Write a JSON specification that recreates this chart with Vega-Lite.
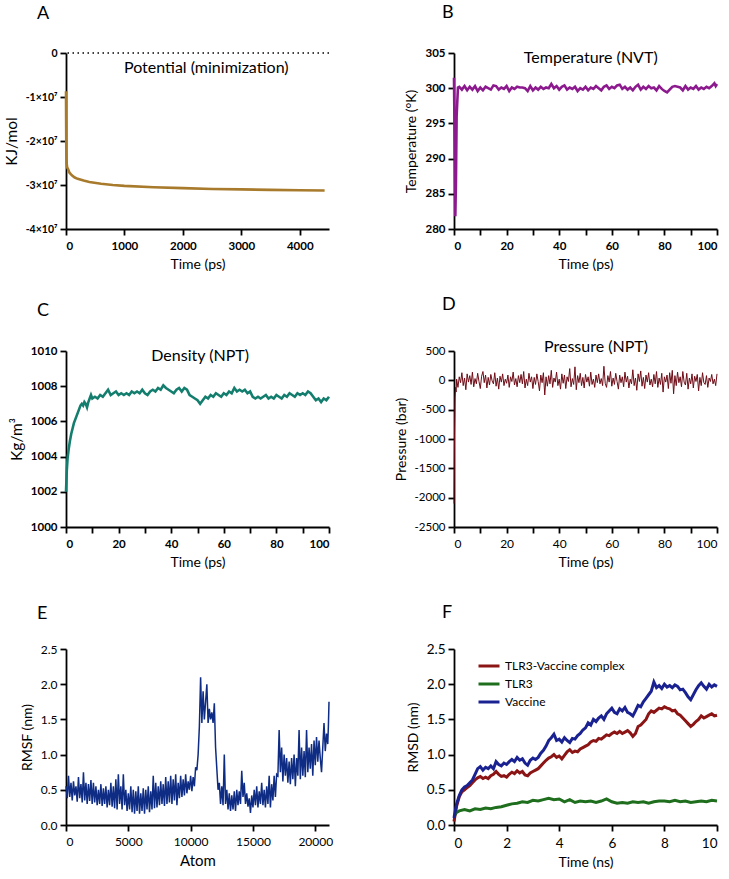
{
"$schema":"https://vega.github.io/schema/vega-lite/v6.json",
"padding":{"left":4,"top":4,"right":4,"bottom":4},
"config":{
 "view":{"stroke":null},
 "font":"Lato",
 "axis":{"domainColor":"black","domainWidth":1.8,"tickColor":"black","tickWidth":1.8,"tickSize":6,"labelColor":"black","labelFont":"Lato","labelFontSize":11.5,"labelFontWeight":"bold","titleFont":"Lato","titleFontSize":14,"titleFontWeight":"normal","titleColor":"black","grid":false,"labelPadding":3,"titlePadding":6,"labelOverlap":false},
 "axisX":{"labelPadding":5,"titlePadding":6},
 "title":{"font":"Lato","fontSize":18,"fontWeight":"normal","anchor":"start","frame":"group","color":"black"}
},
"datasets":{
 "pot":[{"t":0,"v":-8700000},{"t":2,"v":-15000000},{"t":5,"v":-22000000},{"t":10,"v":-25000000},{"t":20,"v":-26000000},{"t":35,"v":-26400000},{"t":60,"v":-27200000},{"t":100,"v":-27800000},{"t":150,"v":-28300000},{"t":200,"v":-28600000},{"t":300,"v":-29000000},{"t":400,"v":-29300000},{"t":600,"v":-29700000},{"t":800,"v":-30000000},{"t":1000,"v":-30200000},{"t":1500,"v":-30500000},{"t":2000,"v":-30700000},{"t":2500,"v":-30900000},{"t":3000,"v":-31000000},{"t":3500,"v":-31100000},{"t":4000,"v":-31200000},{"t":4425,"v":-31250000}],
 "temp":[{"t":0,"v":301.5},{"t":0.25,"v":292},{"t":0.5,"v":281.8},{"t":0.75,"v":287},{"t":1,"v":296},{"t":1.5,"v":300.1},{"t":2,"v":300.2},{"t":3,"v":299.8},{"t":4,"v":300.3},{"t":5,"v":299.7},{"t":6,"v":300.2},{"t":7,"v":299.8},{"t":8,"v":300.3},{"t":9,"v":299.6},{"t":10,"v":300.1},{"t":11,"v":299.7},{"t":12,"v":300.2},{"t":13,"v":300.0},{"t":14,"v":299.8},{"t":15,"v":300.4},{"t":16,"v":300.3},{"t":17,"v":299.8},{"t":18,"v":300.1},{"t":19,"v":299.9},{"t":20,"v":300.3},{"t":21,"v":299.6},{"t":22,"v":300.1},{"t":23,"v":299.9},{"t":24,"v":300.2},{"t":25,"v":300.1},{"t":26,"v":300.1},{"t":27,"v":300.0},{"t":28,"v":299.6},{"t":29,"v":300.3},{"t":30,"v":299.7},{"t":31,"v":300.1},{"t":32,"v":299.8},{"t":33,"v":300.2},{"t":34,"v":299.9},{"t":35,"v":300.1},{"t":36,"v":300.0},{"t":37,"v":300.6},{"t":38,"v":300.0},{"t":39,"v":300.3},{"t":40,"v":299.8},{"t":41,"v":300.2},{"t":42,"v":300.4},{"t":43,"v":299.8},{"t":44,"v":300.1},{"t":45,"v":299.9},{"t":46,"v":300.2},{"t":47,"v":299.6},{"t":48,"v":300.0},{"t":49,"v":299.8},{"t":50,"v":300.2},{"t":51,"v":299.7},{"t":52,"v":300.1},{"t":53,"v":299.9},{"t":54,"v":300.3},{"t":55,"v":300.0},{"t":56,"v":299.7},{"t":57,"v":300.2},{"t":58,"v":300.4},{"t":59,"v":299.9},{"t":60,"v":300.2},{"t":61,"v":300.0},{"t":62,"v":300.4},{"t":63,"v":300.5},{"t":64,"v":299.9},{"t":65,"v":300.2},{"t":66,"v":299.8},{"t":67,"v":300.1},{"t":68,"v":299.7},{"t":69,"v":300.2},{"t":70,"v":300.5},{"t":71,"v":299.8},{"t":72,"v":300.2},{"t":73,"v":299.9},{"t":74,"v":300.3},{"t":75,"v":300.0},{"t":76,"v":300.1},{"t":77,"v":299.7},{"t":78,"v":300.3},{"t":79,"v":299.9},{"t":80,"v":299.6},{"t":81,"v":299.4},{"t":82,"v":299.8},{"t":83,"v":300.2},{"t":84,"v":300.3},{"t":85,"v":300.2},{"t":86,"v":300.1},{"t":87,"v":299.7},{"t":88,"v":300.3},{"t":89,"v":299.8},{"t":90,"v":300.1},{"t":91,"v":299.9},{"t":92,"v":300.3},{"t":93,"v":299.8},{"t":94,"v":300.1},{"t":95,"v":299.9},{"t":96,"v":300.2},{"t":97,"v":300.0},{"t":98,"v":300.3},{"t":99,"v":300.7},{"t":99.5,"v":300.3},{"t":100,"v":300.6}],
 "dens":[{"t":0,"v":1002.0},{"t":0.3,"v":1003.2},{"t":0.6,"v":1003.9},{"t":1,"v":1004.4},{"t":1.5,"v":1004.9},{"t":2,"v":1005.3},{"t":2.5,"v":1005.6},{"t":3,"v":1005.9},{"t":3.5,"v":1006.1},{"t":4,"v":1006.3},{"t":4.5,"v":1006.5},{"t":5,"v":1006.7},{"t":5.5,"v":1006.9},{"t":6,"v":1007.0},{"t":6.5,"v":1006.9},{"t":7,"v":1007.1},{"t":7.5,"v":1007.0},{"t":8,"v":1006.8},{"t":8.5,"v":1007.1},{"t":9,"v":1007.3},{"t":9.5,"v":1007.5},{"t":10,"v":1007.3},{"t":11,"v":1007.4},{"t":12,"v":1007.3},{"t":13,"v":1007.5},{"t":14,"v":1007.4},{"t":15,"v":1007.6},{"t":16,"v":1007.8},{"t":17,"v":1007.5},{"t":18,"v":1007.6},{"t":19,"v":1007.7},{"t":20,"v":1007.5},{"t":21,"v":1007.6},{"t":22,"v":1007.5},{"t":23,"v":1007.6},{"t":24,"v":1007.5},{"t":25,"v":1007.7},{"t":26,"v":1007.6},{"t":27,"v":1007.7},{"t":28,"v":1007.6},{"t":29,"v":1007.8},{"t":30,"v":1007.6},{"t":31,"v":1007.5},{"t":32,"v":1007.7},{"t":33,"v":1007.8},{"t":34,"v":1007.7},{"t":35,"v":1007.9},{"t":36,"v":1007.8},{"t":37,"v":1008.05},{"t":38,"v":1007.9},{"t":39,"v":1007.8},{"t":40,"v":1007.7},{"t":41,"v":1007.6},{"t":42,"v":1007.8},{"t":43,"v":1007.9},{"t":44,"v":1007.7},{"t":45,"v":1007.9},{"t":46,"v":1007.8},{"t":47,"v":1007.5},{"t":48,"v":1007.4},{"t":49,"v":1007.3},{"t":50,"v":1007.2},{"t":51,"v":1007.0},{"t":52,"v":1007.2},{"t":53,"v":1007.4},{"t":54,"v":1007.3},{"t":55,"v":1007.5},{"t":56,"v":1007.4},{"t":57,"v":1007.6},{"t":58,"v":1007.5},{"t":59,"v":1007.4},{"t":60,"v":1007.6},{"t":61,"v":1007.5},{"t":62,"v":1007.7},{"t":63,"v":1007.6},{"t":64,"v":1007.9},{"t":65,"v":1007.7},{"t":66,"v":1007.8},{"t":67,"v":1007.7},{"t":68,"v":1007.8},{"t":69,"v":1007.6},{"t":70,"v":1007.7},{"t":71,"v":1007.4},{"t":72,"v":1007.3},{"t":73,"v":1007.4},{"t":74,"v":1007.3},{"t":75,"v":1007.4},{"t":76,"v":1007.5},{"t":77,"v":1007.3},{"t":78,"v":1007.4},{"t":79,"v":1007.3},{"t":80,"v":1007.5},{"t":81,"v":1007.4},{"t":82,"v":1007.3},{"t":83,"v":1007.5},{"t":84,"v":1007.4},{"t":85,"v":1007.6},{"t":86,"v":1007.5},{"t":87,"v":1007.4},{"t":88,"v":1007.6},{"t":89,"v":1007.5},{"t":90,"v":1007.6},{"t":91,"v":1007.5},{"t":92,"v":1007.7},{"t":93,"v":1007.6},{"t":94,"v":1007.4},{"t":95,"v":1007.2},{"t":96,"v":1007.3},{"t":97,"v":1007.1},{"t":98,"v":1007.3},{"t":99,"v":1007.2},{"t":100,"v":1007.4}],
 "pres":[{"t":0,"v":-2100},{"t":0.2,"v":-900},{"t":0.4,"v":-300},{"t":0.6,"v":-120},{"t":0.8,"v":-200},
 {"t":1,"v":20},{"t":1.5,"v":-120},{"t":2,"v":60},{"t":2.5,"v":-40},{"t":3,"v":130},{"t":3.5,"v":-90},{"t":4,"v":40},{"t":4.5,"v":-160},{"t":5,"v":110},{"t":5.5,"v":-30},
 {"t":6,"v":80},{"t":6.5,"v":-70},{"t":7,"v":140},{"t":7.5,"v":-110},{"t":8,"v":30},{"t":8.5,"v":-60},{"t":9,"v":120},{"t":9.5,"v":-20},{"t":10,"v":-140},{"t":10.5,"v":70},
 {"t":11,"v":150},{"t":11.5,"v":-40},{"t":12,"v":90},{"t":12.5,"v":-130},{"t":13,"v":50},{"t":13.5,"v":-80},{"t":14,"v":100},{"t":14.5,"v":-10},{"t":15,"v":-60},{"t":15.5,"v":130},
 {"t":16,"v":-100},{"t":16.5,"v":40},{"t":17,"v":-150},{"t":17.5,"v":70},{"t":18,"v":-30},{"t":18.5,"v":110},{"t":19,"v":-90},{"t":19.5,"v":20},{"t":20,"v":-50},{"t":20.5,"v":90},
 {"t":21,"v":-120},{"t":21.5,"v":60},{"t":22,"v":-20},{"t":22.5,"v":140},{"t":23,"v":-80},{"t":23.5,"v":30},{"t":24,"v":-110},{"t":24.5,"v":80},{"t":25,"v":-40},{"t":25.5,"v":100},
 {"t":26,"v":-60},{"t":26.5,"v":150},{"t":27,"v":-130},{"t":27.5,"v":20},{"t":28,"v":-90},{"t":28.5,"v":120},{"t":29,"v":-30},{"t":29.5,"v":60},{"t":30,"v":-140},{"t":30.5,"v":50},
 {"t":31,"v":-70},{"t":31.5,"v":110},{"t":32,"v":-20},{"t":32.5,"v":-180},{"t":33,"v":90},{"t":33.5,"v":-40},{"t":34,"v":130},{"t":34.5,"v":-250},{"t":35,"v":60},{"t":35.5,"v":-100},
 {"t":36,"v":80},{"t":36.5,"v":-60},{"t":37,"v":170},{"t":37.5,"v":-120},{"t":38,"v":40},{"t":38.5,"v":-30},{"t":39,"v":140},{"t":39.5,"v":-90},{"t":40,"v":20},{"t":40.5,"v":-150},
 {"t":41,"v":110},{"t":41.5,"v":-50},{"t":42,"v":90},{"t":42.5,"v":-140},{"t":43,"v":60},{"t":43.5,"v":-20},{"t":44,"v":200},{"t":44.5,"v":-110},{"t":45,"v":30},{"t":45.5,"v":-70},
 {"t":46,"v":230},{"t":46.5,"v":-160},{"t":47,"v":80},{"t":47.5,"v":-40},{"t":48,"v":120},{"t":48.5,"v":-90},{"t":49,"v":50},{"t":49.5,"v":-130},{"t":50,"v":100},{"t":50.5,"v":-30},
 {"t":51,"v":60},{"t":51.5,"v":-100},{"t":52,"v":140},{"t":52.5,"v":-70},{"t":53,"v":20},{"t":53.5,"v":-120},{"t":54,"v":90},{"t":54.5,"v":-40},{"t":55,"v":110},{"t":55.5,"v":-60},
 {"t":56,"v":30},{"t":56.5,"v":-90},{"t":57,"v":240},{"t":57.5,"v":-50},{"t":58,"v":-120},{"t":58.5,"v":80},{"t":59,"v":-30},{"t":59.5,"v":150},{"t":60,"v":-100},{"t":60.5,"v":40},
 {"t":61,"v":-70},{"t":61.5,"v":120},{"t":62,"v":-20},{"t":62.5,"v":-150},{"t":63,"v":90},{"t":63.5,"v":-40},{"t":64,"v":60},{"t":64.5,"v":-110},{"t":65,"v":140},{"t":65.5,"v":-30},
 {"t":66,"v":70},{"t":66.5,"v":-130},{"t":67,"v":20},{"t":67.5,"v":-60},{"t":68,"v":180},{"t":68.5,"v":-90},{"t":69,"v":40},{"t":69.5,"v":-170},{"t":70,"v":110},{"t":70.5,"v":-20},
 {"t":71,"v":160},{"t":71.5,"v":-100},{"t":72,"v":50},{"t":72.5,"v":-140},{"t":73,"v":90},{"t":73.5,"v":-30},{"t":74,"v":130},{"t":74.5,"v":-80},{"t":75,"v":20},{"t":75.5,"v":-110},
 {"t":76,"v":100},{"t":76.5,"v":-60},{"t":77,"v":150},{"t":77.5,"v":-120},{"t":78,"v":40},{"t":78.5,"v":-70},{"t":79,"v":120},{"t":79.5,"v":-200},{"t":80,"v":60},{"t":80.5,"v":-30},
 {"t":81,"v":90},{"t":81.5,"v":-140},{"t":82,"v":130},{"t":82.5,"v":-50},{"t":83,"v":170},{"t":83.5,"v":-230},{"t":84,"v":80},{"t":84.5,"v":-90},{"t":85,"v":140},{"t":85.5,"v":-40},
 {"t":86,"v":60},{"t":86.5,"v":-110},{"t":87,"v":150},{"t":87.5,"v":-30},{"t":88,"v":-80},{"t":88.5,"v":120},{"t":89,"v":-150},{"t":89.5,"v":40},{"t":90,"v":-60},{"t":90.5,"v":110},
 {"t":91,"v":-130},{"t":91.5,"v":70},{"t":92,"v":-20},{"t":92.5,"v":100},{"t":93,"v":-180},{"t":93.5,"v":50},{"t":94,"v":-90},{"t":94.5,"v":130},{"t":95,"v":-40},{"t":95.5,"v":-70},
 {"t":96,"v":80},{"t":96.5,"v":-120},{"t":97,"v":40},{"t":97.5,"v":-20},{"t":98,"v":100},{"t":98.5,"v":-60},{"t":99,"v":20},{"t":99.5,"v":-90},{"t":100,"v":110}],
 "rmsf":[{"t":0,"v":0.55},{"t":100,"v":0.38},{"t":200,"v":0.7},{"t":300,"v":0.4},{"t":400,"v":0.6},{"t":500,"v":0.35},{"t":600,"v":0.62},{"t":700,"v":0.42},{"t":800,"v":0.55},{"t":900,"v":0.33},{"t":1000,"v":0.68},{"t":1100,"v":0.38},{"t":1200,"v":0.58},{"t":1300,"v":0.32},{"t":1400,"v":0.75},{"t":1500,"v":0.35},{"t":1600,"v":0.6},{"t":1700,"v":0.3},{"t":1800,"v":0.58},{"t":1900,"v":0.34},{"t":2000,"v":0.64},
 {"t":2100,"v":0.3},{"t":2200,"v":0.6},{"t":2300,"v":0.32},{"t":2400,"v":0.55},{"t":2500,"v":0.28},{"t":2600,"v":0.5},{"t":2700,"v":0.3},{"t":2800,"v":0.58},{"t":2900,"v":0.27},{"t":3000,"v":0.52},{"t":3100,"v":0.3},{"t":3200,"v":0.55},{"t":3300,"v":0.25},{"t":3400,"v":0.5},{"t":3500,"v":0.28},{"t":3600,"v":0.6},{"t":3700,"v":0.26},{"t":3800,"v":0.55},{"t":3900,"v":0.24},{"t":4000,"v":0.65},{"t":4100,"v":0.22},{"t":4200,"v":0.72},{"t":4300,"v":0.3},{"t":4400,"v":0.55},{"t":4500,"v":0.22},{"t":4600,"v":0.72},{"t":4700,"v":0.28},{"t":4800,"v":0.5},{"t":4900,"v":0.2},{"t":5000,"v":0.45},
 {"t":5100,"v":0.22},{"t":5200,"v":0.55},{"t":5300,"v":0.18},{"t":5400,"v":0.5},{"t":5500,"v":0.16},{"t":5600,"v":0.48},{"t":5700,"v":0.2},{"t":5800,"v":0.55},{"t":5900,"v":0.16},{"t":6000,"v":0.45},{"t":6100,"v":0.2},{"t":6200,"v":0.52},{"t":6300,"v":0.16},{"t":6400,"v":0.5},{"t":6500,"v":0.22},{"t":6600,"v":0.55},{"t":6700,"v":0.18},{"t":6800,"v":0.48},{"t":6900,"v":0.22},{"t":7000,"v":0.7},
 {"t":7100,"v":0.24},{"t":7200,"v":0.6},{"t":7300,"v":0.25},{"t":7400,"v":0.55},{"t":7500,"v":0.28},{"t":7600,"v":0.62},{"t":7700,"v":0.3},{"t":7800,"v":0.58},{"t":7900,"v":0.27},{"t":8000,"v":0.68},{"t":8100,"v":0.3},{"t":8200,"v":0.62},{"t":8300,"v":0.32},{"t":8400,"v":0.7},{"t":8500,"v":0.3},{"t":8600,"v":0.65},{"t":8700,"v":0.35},{"t":8800,"v":0.72},{"t":8900,"v":0.28},{"t":9000,"v":0.6},
 {"t":9100,"v":0.38},{"t":9200,"v":0.7},{"t":9300,"v":0.4},{"t":9400,"v":0.65},{"t":9500,"v":0.42},{"t":9600,"v":0.72},{"t":9700,"v":0.45},{"t":9800,"v":0.62},{"t":9900,"v":0.5},{"t":10000,"v":0.7},{"t":10100,"v":0.48},{"t":10200,"v":0.68},{"t":10300,"v":0.55},{"t":10400,"v":0.82},{"t":10500,"v":0.78},
 {"t":10600,"v":1.0},{"t":10700,"v":1.4},{"t":10800,"v":2.1},{"t":10900,"v":1.45},{"t":11000,"v":1.9},{"t":11100,"v":1.5},{"t":11200,"v":1.75},{"t":11300,"v":2.0},{"t":11400,"v":1.45},{"t":11500,"v":1.65},{"t":11600,"v":1.5},{"t":11700,"v":1.6},{"t":11800,"v":1.45},{"t":11900,"v":1.73},{"t":12000,"v":1.1},{"t":12100,"v":0.8},{"t":12200,"v":0.5},{"t":12300,"v":0.6},{"t":12400,"v":0.3},{"t":12500,"v":0.55},{"t":12600,"v":0.28},{"t":12700,"v":1.0},{"t":12800,"v":0.3},{"t":12900,"v":0.5},{"t":13000,"v":0.22},{"t":13100,"v":0.45},{"t":13200,"v":0.2},{"t":13300,"v":0.42},{"t":13400,"v":0.22},{"t":13500,"v":0.48},{"t":13600,"v":0.2},{"t":13700,"v":0.5},{"t":13800,"v":0.28},{"t":13900,"v":0.48},{"t":14000,"v":0.3},{"t":14100,"v":0.77},{"t":14200,"v":0.4},{"t":14300,"v":0.6},{"t":14400,"v":0.3},{"t":14500,"v":0.45},{"t":14600,"v":0.26},{"t":14700,"v":0.38},{"t":14800,"v":0.17},{"t":14900,"v":0.42},{"t":15000,"v":0.25},{"t":15100,"v":0.5},{"t":15200,"v":0.28},{"t":15300,"v":0.55},{"t":15400,"v":0.25},{"t":15500,"v":0.48},{"t":15600,"v":0.3},{"t":15700,"v":0.6},{"t":15800,"v":0.28},{"t":15900,"v":0.5},{"t":16000,"v":0.25},{"t":16100,"v":0.55},{"t":16200,"v":0.3},{"t":16300,"v":0.7},{"t":16400,"v":0.25},{"t":16500,"v":0.58},{"t":16600,"v":0.35},{"t":16700,"v":0.7},{"t":16800,"v":0.4},{"t":16900,"v":0.72},{"t":17000,"v":0.7},{"t":17100,"v":1.35},{"t":17200,"v":0.75},{"t":17300,"v":1.1},{"t":17400,"v":0.62},{"t":17500,"v":1.0},{"t":17600,"v":0.7},{"t":17700,"v":0.95},{"t":17800,"v":0.6},{"t":17900,"v":0.9},{"t":18000,"v":0.58},{"t":18100,"v":0.95},{"t":18200,"v":0.65},{"t":18300,"v":1.0},{"t":18400,"v":0.55},{"t":18500,"v":0.95},{"t":18600,"v":0.7},{"t":18700,"v":1.35},{"t":18800,"v":0.65},{"t":18900,"v":1.1},{"t":19000,"v":0.7},{"t":19100,"v":1.05},{"t":19200,"v":0.68},{"t":19300,"v":1.35},{"t":19400,"v":0.75},{"t":19500,"v":1.1},{"t":19600,"v":0.8},{"t":19700,"v":1.15},{"t":19800,"v":0.7},{"t":19900,"v":1.2},{"t":20000,"v":0.85},{"t":20100,"v":1.25},{"t":20200,"v":0.9},{"t":20300,"v":1.2},{"t":20400,"v":0.95},{"t":20500,"v":0.75},{"t":20600,"v":1.1},{"t":20700,"v":1.45},{"t":20800,"v":1.05},{"t":20900,"v":1.3},{"t":21000,"v":1.15},{"t":21050,"v":1.4},{"t":21100,"v":1.75}],
 "rmsd":[
 {"s":"TLR3-Vaccine complex","t":0,"v":0.05},{"s":"TLR3-Vaccine complex","t":0.1,"v":0.27},{"s":"TLR3-Vaccine complex","t":0.2,"v":0.4},{"s":"TLR3-Vaccine complex","t":0.3,"v":0.47},{"s":"TLR3-Vaccine complex","t":0.4,"v":0.5},{"s":"TLR3-Vaccine complex","t":0.5,"v":0.53},{"s":"TLR3-Vaccine complex","t":0.6,"v":0.56},{"s":"TLR3-Vaccine complex","t":0.7,"v":0.6},{"s":"TLR3-Vaccine complex","t":0.8,"v":0.64},{"s":"TLR3-Vaccine complex","t":0.9,"v":0.67},{"s":"TLR3-Vaccine complex","t":1.0,"v":0.69},{"s":"TLR3-Vaccine complex","t":1.1,"v":0.66},{"s":"TLR3-Vaccine complex","t":1.2,"v":0.68},{"s":"TLR3-Vaccine complex","t":1.3,"v":0.66},{"s":"TLR3-Vaccine complex","t":1.4,"v":0.7},{"s":"TLR3-Vaccine complex","t":1.5,"v":0.72},{"s":"TLR3-Vaccine complex","t":1.6,"v":0.76},{"s":"TLR3-Vaccine complex","t":1.7,"v":0.72},{"s":"TLR3-Vaccine complex","t":1.8,"v":0.69},{"s":"TLR3-Vaccine complex","t":1.9,"v":0.7},{"s":"TLR3-Vaccine complex","t":2.0,"v":0.68},{"s":"TLR3-Vaccine complex","t":2.1,"v":0.72},{"s":"TLR3-Vaccine complex","t":2.2,"v":0.75},{"s":"TLR3-Vaccine complex","t":2.3,"v":0.73},{"s":"TLR3-Vaccine complex","t":2.4,"v":0.77},{"s":"TLR3-Vaccine complex","t":2.5,"v":0.74},{"s":"TLR3-Vaccine complex","t":2.6,"v":0.76},{"s":"TLR3-Vaccine complex","t":2.7,"v":0.71},{"s":"TLR3-Vaccine complex","t":2.8,"v":0.7},{"s":"TLR3-Vaccine complex","t":2.9,"v":0.74},{"s":"TLR3-Vaccine complex","t":3.0,"v":0.76},{"s":"TLR3-Vaccine complex","t":3.1,"v":0.78},{"s":"TLR3-Vaccine complex","t":3.2,"v":0.8},{"s":"TLR3-Vaccine complex","t":3.3,"v":0.84},{"s":"TLR3-Vaccine complex","t":3.4,"v":0.88},{"s":"TLR3-Vaccine complex","t":3.5,"v":0.92},{"s":"TLR3-Vaccine complex","t":3.6,"v":0.95},{"s":"TLR3-Vaccine complex","t":3.7,"v":0.97},{"s":"TLR3-Vaccine complex","t":3.8,"v":1.0},{"s":"TLR3-Vaccine complex","t":3.9,"v":0.96},{"s":"TLR3-Vaccine complex","t":4.0,"v":0.98},{"s":"TLR3-Vaccine complex","t":4.1,"v":0.94},{"s":"TLR3-Vaccine complex","t":4.2,"v":0.99},{"s":"TLR3-Vaccine complex","t":4.3,"v":1.04},{"s":"TLR3-Vaccine complex","t":4.4,"v":1.07},{"s":"TLR3-Vaccine complex","t":4.5,"v":1.03},{"s":"TLR3-Vaccine complex","t":4.6,"v":1.05},{"s":"TLR3-Vaccine complex","t":4.7,"v":1.04},{"s":"TLR3-Vaccine complex","t":4.8,"v":1.08},{"s":"TLR3-Vaccine complex","t":4.9,"v":1.1},{"s":"TLR3-Vaccine complex","t":5.0,"v":1.12},{"s":"TLR3-Vaccine complex","t":5.1,"v":1.14},{"s":"TLR3-Vaccine complex","t":5.2,"v":1.18},{"s":"TLR3-Vaccine complex","t":5.3,"v":1.2},{"s":"TLR3-Vaccine complex","t":5.4,"v":1.19},{"s":"TLR3-Vaccine complex","t":5.5,"v":1.23},{"s":"TLR3-Vaccine complex","t":5.6,"v":1.22},{"s":"TLR3-Vaccine complex","t":5.7,"v":1.25},{"s":"TLR3-Vaccine complex","t":5.8,"v":1.28},{"s":"TLR3-Vaccine complex","t":5.9,"v":1.27},{"s":"TLR3-Vaccine complex","t":6.0,"v":1.3},{"s":"TLR3-Vaccine complex","t":6.1,"v":1.32},{"s":"TLR3-Vaccine complex","t":6.2,"v":1.3},{"s":"TLR3-Vaccine complex","t":6.3,"v":1.33},{"s":"TLR3-Vaccine complex","t":6.4,"v":1.3},{"s":"TLR3-Vaccine complex","t":6.5,"v":1.32},{"s":"TLR3-Vaccine complex","t":6.6,"v":1.34},{"s":"TLR3-Vaccine complex","t":6.7,"v":1.31},{"s":"TLR3-Vaccine complex","t":6.8,"v":1.26},{"s":"TLR3-Vaccine complex","t":6.9,"v":1.3},{"s":"TLR3-Vaccine complex","t":7.0,"v":1.4},{"s":"TLR3-Vaccine complex","t":7.1,"v":1.42},{"s":"TLR3-Vaccine complex","t":7.2,"v":1.46},{"s":"TLR3-Vaccine complex","t":7.3,"v":1.5},{"s":"TLR3-Vaccine complex","t":7.4,"v":1.58},{"s":"TLR3-Vaccine complex","t":7.5,"v":1.62},{"s":"TLR3-Vaccine complex","t":7.6,"v":1.6},{"s":"TLR3-Vaccine complex","t":7.7,"v":1.63},{"s":"TLR3-Vaccine complex","t":7.8,"v":1.66},{"s":"TLR3-Vaccine complex","t":7.9,"v":1.65},{"s":"TLR3-Vaccine complex","t":8.0,"v":1.68},{"s":"TLR3-Vaccine complex","t":8.1,"v":1.66},{"s":"TLR3-Vaccine complex","t":8.2,"v":1.65},{"s":"TLR3-Vaccine complex","t":8.3,"v":1.62},{"s":"TLR3-Vaccine complex","t":8.4,"v":1.63},{"s":"TLR3-Vaccine complex","t":8.5,"v":1.58},{"s":"TLR3-Vaccine complex","t":8.6,"v":1.56},{"s":"TLR3-Vaccine complex","t":8.7,"v":1.52},{"s":"TLR3-Vaccine complex","t":8.8,"v":1.48},{"s":"TLR3-Vaccine complex","t":8.9,"v":1.44},{"s":"TLR3-Vaccine complex","t":9.0,"v":1.4},{"s":"TLR3-Vaccine complex","t":9.1,"v":1.43},{"s":"TLR3-Vaccine complex","t":9.2,"v":1.47},{"s":"TLR3-Vaccine complex","t":9.3,"v":1.5},{"s":"TLR3-Vaccine complex","t":9.4,"v":1.55},{"s":"TLR3-Vaccine complex","t":9.5,"v":1.52},{"s":"TLR3-Vaccine complex","t":9.6,"v":1.54},{"s":"TLR3-Vaccine complex","t":9.7,"v":1.56},{"s":"TLR3-Vaccine complex","t":9.8,"v":1.58},{"s":"TLR3-Vaccine complex","t":9.9,"v":1.55},{"s":"TLR3-Vaccine complex","t":10.0,"v":1.56},
 {"s":"TLR3","t":0,"v":0.12},{"s":"TLR3","t":0.1,"v":0.18},{"s":"TLR3","t":0.2,"v":0.2},{"s":"TLR3","t":0.4,"v":0.22},{"s":"TLR3","t":0.6,"v":0.2},{"s":"TLR3","t":0.8,"v":0.23},{"s":"TLR3","t":1.0,"v":0.22},{"s":"TLR3","t":1.2,"v":0.24},{"s":"TLR3","t":1.4,"v":0.23},{"s":"TLR3","t":1.6,"v":0.25},{"s":"TLR3","t":1.8,"v":0.26},{"s":"TLR3","t":2.0,"v":0.28},{"s":"TLR3","t":2.2,"v":0.3},{"s":"TLR3","t":2.4,"v":0.31},{"s":"TLR3","t":2.6,"v":0.33},{"s":"TLR3","t":2.8,"v":0.32},{"s":"TLR3","t":3.0,"v":0.35},{"s":"TLR3","t":3.2,"v":0.34},{"s":"TLR3","t":3.4,"v":0.36},{"s":"TLR3","t":3.6,"v":0.38},{"s":"TLR3","t":3.8,"v":0.36},{"s":"TLR3","t":4.0,"v":0.37},{"s":"TLR3","t":4.2,"v":0.33},{"s":"TLR3","t":4.4,"v":0.36},{"s":"TLR3","t":4.6,"v":0.32},{"s":"TLR3","t":4.8,"v":0.34},{"s":"TLR3","t":5.0,"v":0.33},{"s":"TLR3","t":5.2,"v":0.34},{"s":"TLR3","t":5.4,"v":0.32},{"s":"TLR3","t":5.6,"v":0.34},{"s":"TLR3","t":5.8,"v":0.37},{"s":"TLR3","t":6.0,"v":0.33},{"s":"TLR3","t":6.2,"v":0.31},{"s":"TLR3","t":6.4,"v":0.32},{"s":"TLR3","t":6.6,"v":0.31},{"s":"TLR3","t":6.8,"v":0.33},{"s":"TLR3","t":7.0,"v":0.32},{"s":"TLR3","t":7.2,"v":0.33},{"s":"TLR3","t":7.4,"v":0.31},{"s":"TLR3","t":7.6,"v":0.33},{"s":"TLR3","t":7.8,"v":0.34},{"s":"TLR3","t":8.0,"v":0.34},{"s":"TLR3","t":8.2,"v":0.33},{"s":"TLR3","t":8.4,"v":0.35},{"s":"TLR3","t":8.6,"v":0.33},{"s":"TLR3","t":8.8,"v":0.34},{"s":"TLR3","t":9.0,"v":0.32},{"s":"TLR3","t":9.2,"v":0.33},{"s":"TLR3","t":9.4,"v":0.34},{"s":"TLR3","t":9.6,"v":0.33},{"s":"TLR3","t":9.8,"v":0.35},{"s":"TLR3","t":10.0,"v":0.34},
 {"s":"Vaccine","t":0,"v":0.1},{"s":"Vaccine","t":0.1,"v":0.3},{"s":"Vaccine","t":0.2,"v":0.42},{"s":"Vaccine","t":0.3,"v":0.5},{"s":"Vaccine","t":0.4,"v":0.54},{"s":"Vaccine","t":0.5,"v":0.56},{"s":"Vaccine","t":0.6,"v":0.6},{"s":"Vaccine","t":0.7,"v":0.64},{"s":"Vaccine","t":0.8,"v":0.72},{"s":"Vaccine","t":0.9,"v":0.8},{"s":"Vaccine","t":1.0,"v":0.83},{"s":"Vaccine","t":1.1,"v":0.78},{"s":"Vaccine","t":1.2,"v":0.82},{"s":"Vaccine","t":1.3,"v":0.8},{"s":"Vaccine","t":1.4,"v":0.84},{"s":"Vaccine","t":1.5,"v":0.8},{"s":"Vaccine","t":1.6,"v":0.9},{"s":"Vaccine","t":1.7,"v":0.86},{"s":"Vaccine","t":1.8,"v":0.84},{"s":"Vaccine","t":1.9,"v":0.88},{"s":"Vaccine","t":2.0,"v":0.86},{"s":"Vaccine","t":2.1,"v":0.9},{"s":"Vaccine","t":2.2,"v":0.93},{"s":"Vaccine","t":2.3,"v":0.9},{"s":"Vaccine","t":2.4,"v":0.96},{"s":"Vaccine","t":2.5,"v":0.92},{"s":"Vaccine","t":2.6,"v":0.94},{"s":"Vaccine","t":2.7,"v":0.88},{"s":"Vaccine","t":2.8,"v":0.85},{"s":"Vaccine","t":2.9,"v":0.92},{"s":"Vaccine","t":3.0,"v":0.95},{"s":"Vaccine","t":3.1,"v":0.93},{"s":"Vaccine","t":3.2,"v":0.96},{"s":"Vaccine","t":3.3,"v":1.02},{"s":"Vaccine","t":3.4,"v":1.06},{"s":"Vaccine","t":3.5,"v":1.12},{"s":"Vaccine","t":3.6,"v":1.2},{"s":"Vaccine","t":3.7,"v":1.24},{"s":"Vaccine","t":3.8,"v":1.29},{"s":"Vaccine","t":3.9,"v":1.2},{"s":"Vaccine","t":4.0,"v":1.22},{"s":"Vaccine","t":4.1,"v":1.18},{"s":"Vaccine","t":4.2,"v":1.24},{"s":"Vaccine","t":4.3,"v":1.2},{"s":"Vaccine","t":4.4,"v":1.17},{"s":"Vaccine","t":4.5,"v":1.23},{"s":"Vaccine","t":4.6,"v":1.22},{"s":"Vaccine","t":4.7,"v":1.27},{"s":"Vaccine","t":4.8,"v":1.3},{"s":"Vaccine","t":4.9,"v":1.35},{"s":"Vaccine","t":5.0,"v":1.38},{"s":"Vaccine","t":5.1,"v":1.45},{"s":"Vaccine","t":5.2,"v":1.42},{"s":"Vaccine","t":5.3,"v":1.5},{"s":"Vaccine","t":5.4,"v":1.47},{"s":"Vaccine","t":5.5,"v":1.52},{"s":"Vaccine","t":5.6,"v":1.55},{"s":"Vaccine","t":5.7,"v":1.5},{"s":"Vaccine","t":5.8,"v":1.58},{"s":"Vaccine","t":5.9,"v":1.62},{"s":"Vaccine","t":6.0,"v":1.66},{"s":"Vaccine","t":6.1,"v":1.6},{"s":"Vaccine","t":6.2,"v":1.58},{"s":"Vaccine","t":6.3,"v":1.65},{"s":"Vaccine","t":6.4,"v":1.62},{"s":"Vaccine","t":6.5,"v":1.67},{"s":"Vaccine","t":6.6,"v":1.6},{"s":"Vaccine","t":6.7,"v":1.58},{"s":"Vaccine","t":6.8,"v":1.55},{"s":"Vaccine","t":6.9,"v":1.62},{"s":"Vaccine","t":7.0,"v":1.7},{"s":"Vaccine","t":7.1,"v":1.68},{"s":"Vaccine","t":7.2,"v":1.75},{"s":"Vaccine","t":7.3,"v":1.8},{"s":"Vaccine","t":7.4,"v":1.85},{"s":"Vaccine","t":7.5,"v":1.9},{"s":"Vaccine","t":7.6,"v":2.03},{"s":"Vaccine","t":7.7,"v":1.95},{"s":"Vaccine","t":7.8,"v":1.98},{"s":"Vaccine","t":7.9,"v":1.94},{"s":"Vaccine","t":8.0,"v":2.0},{"s":"Vaccine","t":8.1,"v":1.96},{"s":"Vaccine","t":8.2,"v":1.98},{"s":"Vaccine","t":8.3,"v":1.95},{"s":"Vaccine","t":8.4,"v":1.99},{"s":"Vaccine","t":8.5,"v":1.97},{"s":"Vaccine","t":8.6,"v":1.92},{"s":"Vaccine","t":8.7,"v":1.93},{"s":"Vaccine","t":8.8,"v":1.88},{"s":"Vaccine","t":8.9,"v":1.82},{"s":"Vaccine","t":9.0,"v":1.78},{"s":"Vaccine","t":9.1,"v":1.85},{"s":"Vaccine","t":9.2,"v":1.92},{"s":"Vaccine","t":9.3,"v":1.98},{"s":"Vaccine","t":9.4,"v":2.02},{"s":"Vaccine","t":9.5,"v":1.97},{"s":"Vaccine","t":9.6,"v":1.93},{"s":"Vaccine","t":9.7,"v":2.0},{"s":"Vaccine","t":9.8,"v":1.96},{"s":"Vaccine","t":9.9,"v":1.99},{"s":"Vaccine","t":10.0,"v":1.97}]
},
"columns":2,
"bounds":"flush",
"spacing":{"row":122,"column":125},
"concat":[
  {"width":263,"height":176,"title":{"text":"A","dx":-29,"offset":25},
   "layer":[
    {"data":{"values":[{}]},"mark":{"type":"rule","strokeDash":[1.5,3.5],"strokeWidth":1.6,"color":"black"},
     "encoding":{"y":{"datum":0,"title":"KJ/mol","scale":{"domain":[-40000000,0],"nice":false},"axis":{"values":[0,-10000000,-20000000,-30000000,-40000000],"labelOverlap":false,"labelExpr":"datum.value === 0 ? '0' : '-' + format(-datum.value/10000000, 'd') + '×10⁷'","labelFontSize":10.5,"titleFontSize":15.5}}}},
    {"data":{"name":"pot"},"mark":{"type":"line","color":"#A87A2C","strokeWidth":2.6},
     "encoding":{"x":{"field":"t","type":"quantitative","title":"Time (ps)","scale":{"domain":[0,4500],"nice":false},"axis":{"values":[0,1000,2000,3000,4000],"format":"d","labelOverlap":false}},
      "y":{"field":"v","type":"quantitative","title":"KJ/mol","scale":{"domain":[-40000000,0],"nice":false},"axis":{"values":[0,-10000000,-20000000,-30000000,-40000000],"labelOverlap":false,"labelExpr":"datum.value === 0 ? '0' : '-' + format(-datum.value/10000000, 'd') + '×10⁷'","labelFontSize":10.5,"titleFontSize":15.5}}}},
    {"data":{"values":[{}]},"mark":{"type":"text","text":"Potential (minimization)","fontSize":16,"font":"Lato","baseline":"alphabetic","align":"center","color":"black"},
     "encoding":{"x":{"datum":2400,"title":"Time (ps)","axis":{"values":[0,1000,2000,3000,4000],"format":"d","labelOverlap":false}},
      "y":{"datum":-4570000,"title":"KJ/mol","axis":{"values":[0,-10000000,-20000000,-30000000,-40000000],"labelOverlap":false,"labelExpr":"datum.value === 0 ? '0' : '-' + format(-datum.value/10000000, 'd') + '×10⁷'","labelFontSize":10.5,"titleFontSize":15.5}}}}
   ]},
  {"width":263,"height":176,"title":{"text":"B","dx":-12,"offset":25},
   "layer":[
    {"data":{"name":"temp"},"mark":{"type":"line","color":"#8C1A8E","strokeWidth":2.6},
     "encoding":{"x":{"field":"t","type":"quantitative","title":"Time (ps)","scale":{"domain":[0,100],"nice":false},"axis":{"values":[0,10,20,30,40,50,60,70,80,90,100],"labelOverlap":false,"labelExpr":"datum.value % 20 === 0 ? datum.label : ''"}},
      "y":{"field":"v","type":"quantitative","title":"Temperature (°K)","scale":{"domain":[280,305],"nice":false},"axis":{"values":[280,285,290,295,300,305],"labelOverlap":false}}}},
    {"data":{"values":[{}]},"mark":{"type":"text","text":"Temperature (NVT)","fontSize":16,"font":"Lato","baseline":"alphabetic","align":"center","color":"black"},
     "encoding":{"x":{"datum":52,"title":"Time (ps)","axis":{"values":[0,10,20,30,40,50,60,70,80,90,100],"labelOverlap":false,"labelExpr":"datum.value % 20 === 0 ? datum.label : ''"}},
      "y":{"datum":303.6,"title":"Temperature (°K)","axis":{"values":[280,285,290,295,300,305],"labelOverlap":false}}}}
   ]},
   {"width":263,"height":176,"title":{"text":"C","dx":-29,"offset":25},
    "layer":[
     {"data":{"name":"dens"},"mark":{"type":"line","color":"#147E6E","strokeWidth":2.6},
      "encoding":{"x":{"field":"t","type":"quantitative","title":"Time (ps)","scale":{"domain":[0,100],"nice":false},"axis":{"values":[0,10,20,30,40,50,60,70,80,90,100],"labelOverlap":false,"labelExpr":"datum.value % 20 === 0 ? datum.label : ''"}},
       "y":{"field":"v","type":"quantitative","title":"Kg/m³","scale":{"domain":[1000,1010],"nice":false},"axis":{"values":[1000,1002,1004,1006,1008,1010],"format":"d","labelOverlap":false,"titleFontSize":15.5}}}},
     {"data":{"values":[{}]},"mark":{"type":"text","text":"Density (NPT)","fontSize":16,"font":"Lato","baseline":"alphabetic","align":"center","color":"black"},
      "encoding":{"x":{"datum":51,"title":"Time (ps)","axis":{"values":[0,10,20,30,40,50,60,70,80,90,100],"labelOverlap":false,"labelExpr":"datum.value % 20 === 0 ? datum.label : ''"}},
       "y":{"datum":1009.45,"title":"Kg/m³","axis":{"values":[1000,1002,1004,1006,1008,1010],"format":"d","labelOverlap":false,"titleFontSize":15.5}}}}
    ]},
   {"width":263,"height":176,"title":{"text":"D","dx":-12,"offset":25},
    "layer":[
     {"data":{"name":"pres"},"mark":{"type":"line","color":"#6E0C16","strokeWidth":1},
      "encoding":{"x":{"field":"t","type":"quantitative","title":"Time (ps)","scale":{"domain":[0,100],"nice":false},"axis":{"values":[0,10,20,30,40,50,60,70,80,90,100],"labelOverlap":false,"labelExpr":"datum.value % 20 === 0 ? datum.label : ''","labelFontWeight":"normal","labelFontSize":12}},
       "y":{"field":"v","type":"quantitative","title":"Pressure (bar)","scale":{"domain":[-2500,500],"nice":false},"axis":{"values":[-2500,-2000,-1500,-1000,-500,0,500],"labelOverlap":false,"format":"d","labelExpr":"replace(datum.label, '−', '-')","labelFontWeight":"normal"}}}},
     {"data":{"values":[{}]},"mark":{"type":"text","text":"Pressure (NPT)","fontSize":16,"font":"Lato","baseline":"alphabetic","align":"center","color":"black"},
      "encoding":{"x":{"datum":54,"title":"Time (ps)","axis":{"values":[0,10,20,30,40,50,60,70,80,90,100],"labelOverlap":false,"labelExpr":"datum.value % 20 === 0 ? datum.label : ''","labelFontWeight":"normal","labelFontSize":12}},
       "y":{"datum":480,"title":"Pressure (bar)","axis":{"values":[-2500,-2000,-1500,-1000,-500,0,500],"labelOverlap":false,"format":"d","labelExpr":"replace(datum.label, '−', '-')","labelFontWeight":"normal"}}}}
    ]},
   {"width":263,"height":176,"title":{"text":"E","dx":-29,"offset":20},
    "layer":[
     {"data":{"name":"rmsf"},"mark":{"type":"line","color":"#0E2C84","strokeWidth":1.5},
      "encoding":{"x":{"field":"t","type":"quantitative","title":"Atom","scale":{"domain":[0,21100],"nice":false},"axis":{"values":[0,5000,10000,15000,20000],"format":"d","labelOverlap":false,"labelFontWeight":"normal","labelFontSize":12,"titleFontSize":15}},
       "y":{"field":"v","type":"quantitative","title":"RMSF (nm)","scale":{"domain":[0,2.5],"nice":false},"axis":{"values":[0,0.5,1,1.5,2,2.5],"format":".1f","labelOverlap":false,"labelFontWeight":"normal","labelFontSize":12}}}}
    ]},
   {"width":263,"height":176,"title":{"text":"F","dx":-12,"offset":20},
    "layer":[
     {"data":{"name":"rmsd"},"mark":{"type":"line"},
      "encoding":{"x":{"field":"t","type":"quantitative","title":"Time (ns)","scale":{"domain":[0,10],"nice":false},"axis":{"values":[0,2,4,6,8,10],"labelOverlap":false,"labelFontWeight":"normal","labelFontSize":13.5}},
       "y":{"field":"v","type":"quantitative","title":"RMSD (nm)","scale":{"domain":[0,2.5],"nice":false},"axis":{"values":[0,0.5,1,1.5,2,2.5],"format":".1f","labelOverlap":false,"labelFontWeight":"normal","labelFontSize":13.5}},
       "color":{"field":"s","type":"nominal","scale":{"domain":["TLR3-Vaccine complex","TLR3","Vaccine"],"range":["#8B1414","#1E6E1E","#1A2292"]},"legend":{"orient":"none","legendX":411,"legendY":601,"title":null,"symbolType":"stroke","symbolSize":441,"labelFontSize":12,"labelFont":"Lato","labelColor":"black","padding":0,"rowPadding":0}},
       "strokeWidth":{"field":"s","type":"nominal","scale":{"domain":["TLR3-Vaccine complex","TLR3","Vaccine"],"range":[3,3,1.5]},"legend":{"orient":"none","legendX":411,"legendY":601,"title":null,"symbolType":"stroke","symbolSize":441,"labelFontSize":12,"labelFont":"Lato","labelColor":"black","padding":0,"rowPadding":0}}}}
    ]}
]
}
